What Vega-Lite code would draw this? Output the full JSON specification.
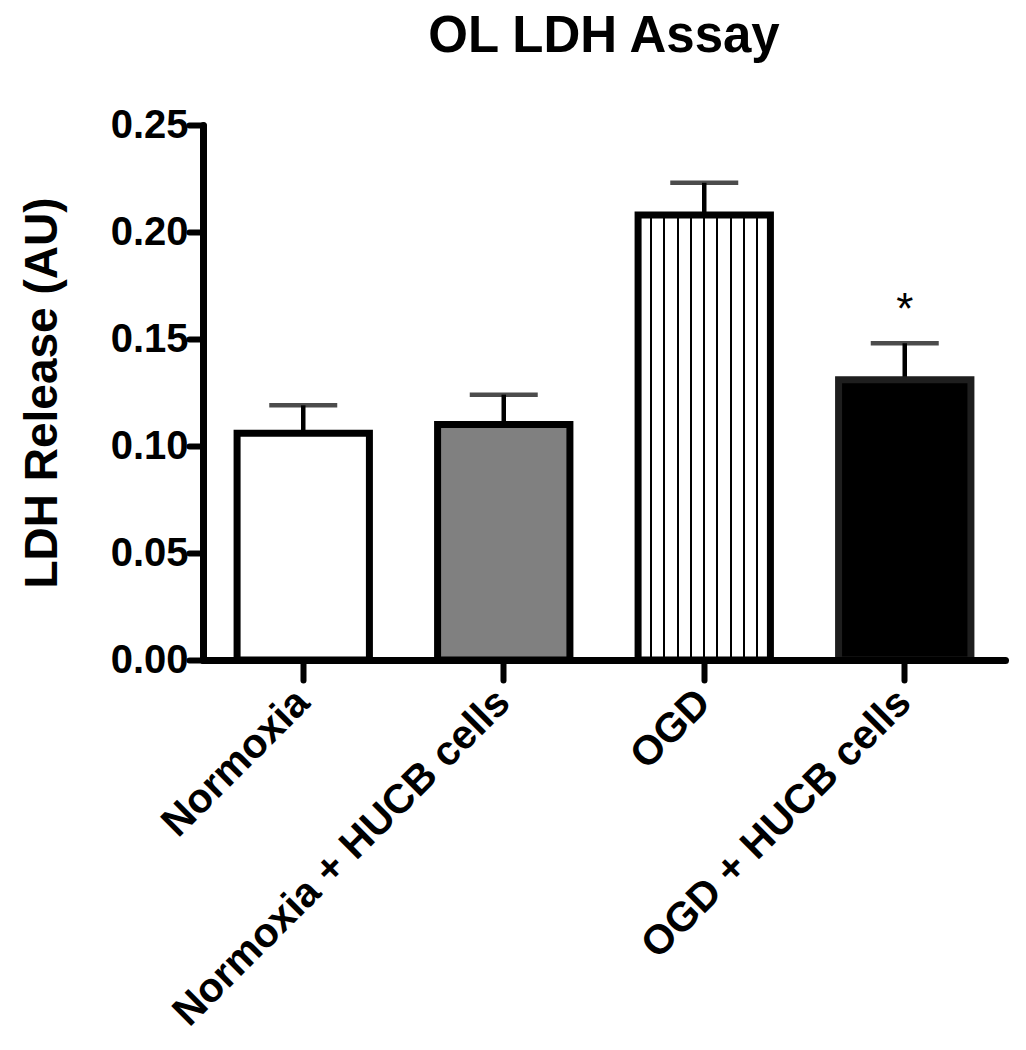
{
  "$schema": "https://vega.github.io/schema/vega-lite/v6.json",
  "autosize": {"type": "none"},
  "padding": {"left": 203, "top": 125, "right": 21, "bottom": 390},
  "width": 802,
  "height": 535,
  "background": "white",
  "config": {
    "view": {"stroke": null},
    "font": "Liberation Sans"
  },
  "title": {
    "text": "OL LDH Assay",
    "fontSize": 51,
    "fontWeight": "bold",
    "font": "Liberation Sans",
    "color": "black",
    "anchor": "middle",
    "baseline": "alphabetic",
    "offset": 2
  },
  "data": {
    "values": [
      {"group": "Normoxia", "mean": 0.106, "upper": 0.119, "sig": ""},
      {"group": "Normoxia + HUCB cells", "mean": 0.110, "upper": 0.124, "sig": ""},
      {"group": "OGD", "mean": 0.208, "upper": 0.223, "sig": ""},
      {"group": "OGD + HUCB cells", "mean": 0.131, "upper": 0.148, "sig": "*"}
    ]
  },
  "encoding": {
    "x": {
      "field": "group",
      "type": "nominal",
      "sort": null,
      "scale": {"paddingInner": 0.34, "paddingOuter": 0.17},
      "axis": {
        "title": null,
        "domainWidth": 7,
        "domainColor": "black",
        "domainCap": "round",
        "tickWidth": 6,
        "tickSize": 20,
        "tickColor": "black",
        "tickCap": "round",
        "labelAngle": -45,
        "labelAlign": "right",
        "labelBaseline": "middle",
        "labelFontSize": 41,
        "labelFontWeight": "bold",
        "labelFont": "Liberation Sans",
        "labelColor": "black",
        "labelPadding": 16,
        "labelLimit": 0,
        "zindex": 1
      }
    }
  },
  "layer": [
    {
      "mark": {"type": "rule", "strokeWidth": 4.5, "color": "black"},
      "encoding": {
        "y": {"field": "mean", "type": "quantitative"},
        "y2": {"field": "upper"}
      }
    },
    {
      "mark": {"type": "tick", "size": 68, "thickness": 4.5, "color": "black", "orient": "horizontal"},
      "encoding": {
        "y": {"field": "upper", "type": "quantitative"}
      }
    },
    {
      "mark": {"type": "bar", "strokeWidth": 7},
      "encoding": {
        "y": {
          "field": "mean",
          "type": "quantitative",
          "scale": {"domain": [0, 0.25], "nice": false},
          "axis": {
            "title": "LDH Release (AU)",
            "titleFontSize": 46,
            "titleFontWeight": "bold",
            "titleFont": "Liberation Sans",
            "titleColor": "black",
            "titlePadding": 44,
            "values": [0, 0.05, 0.1, 0.15, 0.2, 0.25],
            "format": ".2f",
            "grid": false,
            "domainWidth": 7,
            "domainColor": "black",
            "domainCap": "round",
            "tickWidth": 6,
            "tickSize": 14,
            "tickColor": "black",
            "tickCap": "round",
            "labelFontSize": 40,
            "labelFontWeight": "bold",
            "labelFont": "Liberation Sans",
            "labelColor": "black",
            "labelPadding": 1,
            "zindex": 1
          }
        },
        "stroke": {
          "condition": {"test": "datum.group === 'OGD + HUCB cells'", "value": "#1e1e1e"},
          "value": "#000000"
        },
        "fill": {
          "condition": [
            {"test": "datum.group === 'Normoxia + HUCB cells'", "value": "#808080"},
            {"test": "datum.group === 'OGD + HUCB cells'", "value": "#000000"},
            {"test": "datum.group === 'OGD'", "value": {
              "gradient": "linear", "x1": 0, "x2": 1, "y1": 0, "y2": 0,
              "stops": [
                {"offset": 0, "color": "#ffffff"},
                {"offset": 0.092, "color": "#ffffff"}, {"offset": 0.092, "color": "#000000"}, {"offset": 0.106, "color": "#000000"}, {"offset": 0.106, "color": "#ffffff"},
                {"offset": 0.192, "color": "#ffffff"}, {"offset": 0.192, "color": "#000000"}, {"offset": 0.206, "color": "#000000"}, {"offset": 0.206, "color": "#ffffff"},
                {"offset": 0.292, "color": "#ffffff"}, {"offset": 0.292, "color": "#000000"}, {"offset": 0.306, "color": "#000000"}, {"offset": 0.306, "color": "#ffffff"},
                {"offset": 0.392, "color": "#ffffff"}, {"offset": 0.392, "color": "#000000"}, {"offset": 0.406, "color": "#000000"}, {"offset": 0.406, "color": "#ffffff"},
                {"offset": 0.492, "color": "#ffffff"}, {"offset": 0.492, "color": "#000000"}, {"offset": 0.506, "color": "#000000"}, {"offset": 0.506, "color": "#ffffff"},
                {"offset": 0.592, "color": "#ffffff"}, {"offset": 0.592, "color": "#000000"}, {"offset": 0.606, "color": "#000000"}, {"offset": 0.606, "color": "#ffffff"},
                {"offset": 0.692, "color": "#ffffff"}, {"offset": 0.692, "color": "#000000"}, {"offset": 0.706, "color": "#000000"}, {"offset": 0.706, "color": "#ffffff"},
                {"offset": 0.792, "color": "#ffffff"}, {"offset": 0.792, "color": "#000000"}, {"offset": 0.806, "color": "#000000"}, {"offset": 0.806, "color": "#ffffff"},
                {"offset": 0.892, "color": "#ffffff"}, {"offset": 0.892, "color": "#000000"}, {"offset": 0.906, "color": "#000000"}, {"offset": 0.906, "color": "#ffffff"},
                {"offset": 1, "color": "#ffffff"}
              ]
            }}
          ],
          "value": "#ffffff"
        }
      }
    },
    {
      "mark": {"type": "text", "fontSize": 44, "font": "Liberation Sans", "color": "black", "baseline": "alphabetic", "dy": -19},
      "encoding": {
        "y": {"field": "upper", "type": "quantitative"},
        "text": {"field": "sig"}
      }
    }
  ]
}
